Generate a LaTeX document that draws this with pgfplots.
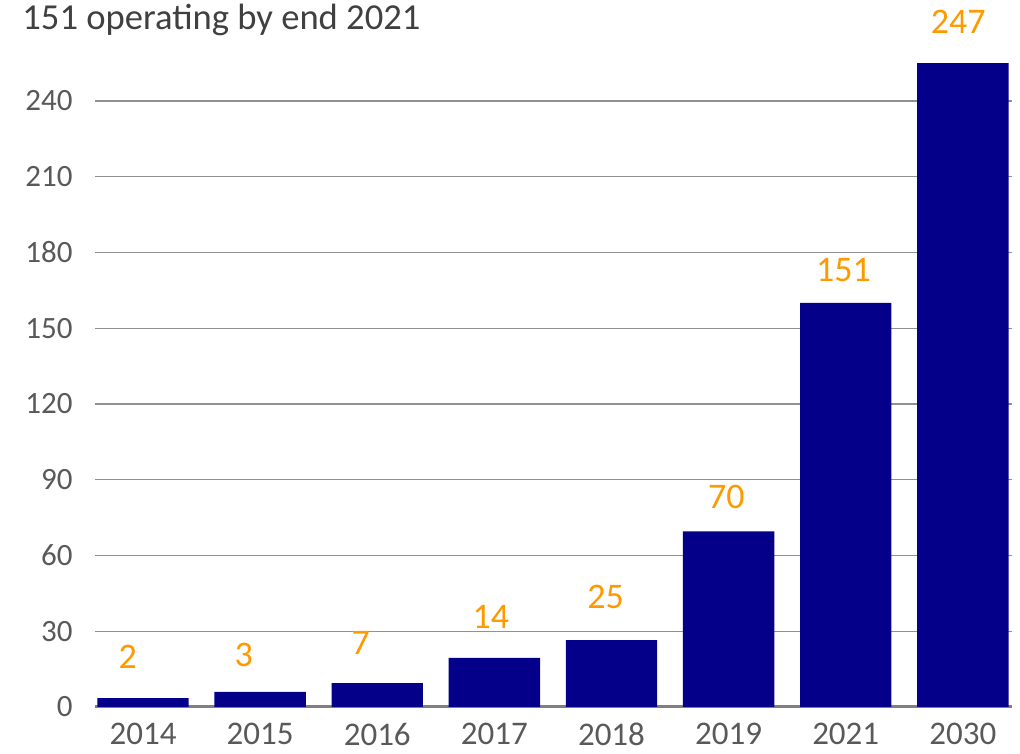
\documentclass[border=0pt]{standalone}
\usepackage{fontspec}
\setmainfont{Carlito}
\usepackage{pgfplots}
\pgfplotsset{compat=1.18}

\definecolor{barnavy}{RGB}{4,0,138}
\definecolor{lblorange}{RGB}{255,153,0}
\definecolor{tickgray}{RGB}{89,89,89}
\definecolor{titlegray}{RGB}{64,64,64}
\definecolor{gridgray}{RGB}{145,145,145}
\definecolor{basegray}{RGB}{128,128,128}

\begin{document}
\begin{tikzpicture}
\begin{axis}[
  name=ax,
  scale only axis,
  width=458.5pt, height=340.9pt,
  xmin=-0.41, xmax=7.42,
  ymin=0, ymax=270,
  axis line style={draw=none},
  major tick length=0pt,
  xtick={0,...,7},
  xticklabels={2014,2015,2016,2017,2018,2019,2021,2030},
  ytick={30,60,...,240},
  extra y ticks={0},
  extra y tick style={grid style={draw=basegray, line width=1.5pt}},
  ymajorgrids,
  grid style={draw=gridgray, line width=0.7pt},
  /pgf/number format/assume math mode=true,
  xticklabel style={font=\fontsize{16.5}{19}\selectfont, text=tickgray, anchor=north, inner sep=0pt, yshift=-8pt},
  yticklabel style={font=\fontsize{15.5}{18}\selectfont, text=tickgray, anchor=east, inner sep=0pt, xshift=-11pt},
  clip=false,
]
\addplot[ybar, bar width=0.78, fill=barnavy, draw=none] coordinates {
  (0,3.5) (1,6) (2,9.5) (3,19.5) (4,26.5) (5,69.5) (6,160) (7,255)
};
\addplot[draw=none, mark=none, nodes near coords, point meta=explicit symbolic,
  every node near coord/.append style={anchor=center, text=lblorange, font=\fontsize{18}{21}\selectfont, inner sep=0pt}]
coordinates {
  (-0.13,19.8)[2] (0.86,20.6)[3] (1.86,25.3)[7] (2.97,35.6)[14]
  (3.95,43.6)[25] (4.98,83.2)[70] (5.98,173.1)[151] (6.96,271.3)[247]
};
\end{axis}
\node[anchor=west, inner sep=0pt, text=titlegray, font=\fontsize{18.3}{22}\selectfont]
  at ([xshift=-36.5pt,yshift=343.5pt]ax.south west) {151 operating by end 2021};
\pgfresetboundingbox
\path (ax.south west) ++(-47.5pt,-23pt) rectangle ++(510pt,376.5pt);
\end{tikzpicture}
\end{document}
